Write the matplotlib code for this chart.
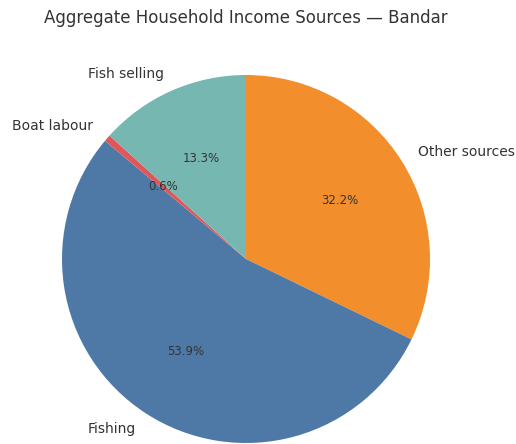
import matplotlib.pyplot as plt

sources = ["Other sources", "Fishing", "Boat labour", "Fish selling"]
shares = [32.2, 53.9, 0.6, 13.3]
colors = ["#f28e2b", "#4e79a7", "#e15759", "#76b7b2"]

fig = plt.figure(figsize=(5.16, 4.44), dpi=100)
ax = fig.add_axes([62 / 516, 1 / 444, 368 / 516, 368 / 444])

wedges, texts, autotexts = ax.pie(
    shares,
    labels=sources,
    colors=colors,
    autopct="%1.1f%%",
    startangle=90,
    counterclock=False,
    textprops={"color": "#333333"},
)
for t in texts:
    t.set_fontsize(10)
for t in autotexts:
    t.set_fontsize(8.5)

ax.set_xlim(-1, 1)
ax.set_ylim(-1, 1)
ax.set_aspect("equal")

fig.text(246 / 516, 1 - 18 / 444, "Aggregate Household Income Sources \u2014 Bandar",
         ha="center", va="center", fontsize=12, color="#333333")

fig.savefig("out.png", dpi=100)
